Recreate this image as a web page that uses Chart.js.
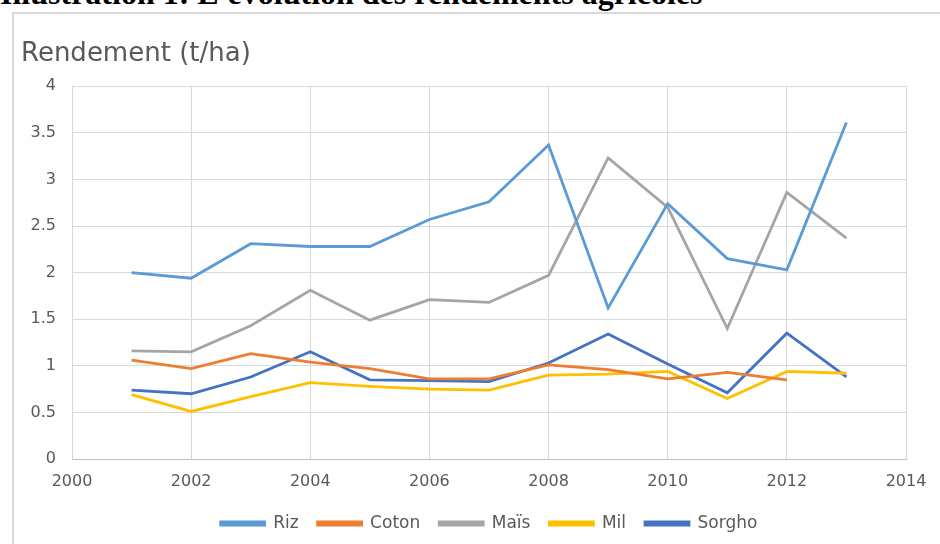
<!DOCTYPE html>
<html>
<head>
<meta charset="utf-8">
<script src="https://cdn.jsdelivr.net/npm/chart.js@4.4.0/dist/chart.umd.min.js"></script>
<style>
  body { margin:0; background:#fff; width:940px; height:544px; overflow:hidden; position:relative; }
  #heading { position:absolute; left:0; top:-23px; line-height:32px; font-family:"Liberation Serif","DejaVu Serif",serif; font-weight:bold; font-size:32px; color:#000; white-space:nowrap; }
  #box { position:absolute; left:12px; top:12px; width:940px; height:540px; border-left:2px solid #d9d9d9; border-top:2px solid #d9d9d9; }
  #wrap { position:absolute; left:14px; top:14px; width:926px; height:528px; }
</style>
</head>
<body>
<div id="heading">Illustration 1: L'évolution des rendements agricoles</div>
<div id="box"></div>
<div id="wrap"><canvas id="chart"></canvas></div>
<script>
// rendements (t/ha)
var years  = [2001, 2002, 2003, 2004, 2005, 2006, 2007, 2008, 2009, 2010, 2011, 2012, 2013];
var riz    = [2.00, 1.94, 2.31, 2.28, 2.28, 2.57, 2.76, 3.37, 1.62, 2.74, 2.15, 2.03, 3.61];
var coton  = [1.06, 0.97, 1.13, 1.04, 0.97, 0.86, 0.86, 1.01, 0.96, 0.86, 0.93, 0.85];
var mais   = [1.16, 1.15, 1.43, 1.81, 1.49, 1.71, 1.68, 1.97, 3.23, 2.70, 1.40, 2.86, 2.37];
var mil    = [0.69, 0.51, 0.67, 0.82, 0.78, 0.75, 0.74, 0.90, 0.91, 0.94, 0.65, 0.94, 0.92];
var sorgho = [0.74, 0.70, 0.88, 1.15, 0.85, 0.84, 0.83, 1.03, 1.34, 1.02, 0.71, 1.35, 0.88];

var seriesNames  = ['Riz', 'Coton', 'Maïs', 'Mil', 'Sorgho'];
var seriesValues = [riz, coton, mais, mil, sorgho];
var seriesColors = ['#5B9BD5', '#ED7D31', '#A5A5A5', '#FFC000', '#4472C4'];

var font = '"DejaVu Sans", "Open Sans", sans-serif';

function toPoints(vals) {
  var pts = [];
  for (var i = 0; i < vals.length; i++) {
    pts.push({ x: years[i], y: vals[i] });
  }
  return pts;
}

var datasets = [];
for (var i = 0; i < seriesNames.length; i++) {
  datasets.push({
    label: seriesNames[i],
    data: toPoints(seriesValues[i]),
    borderColor: seriesColors[i],
    backgroundColor: seriesColors[i],
    borderWidth: 2.8,
    pointRadius: 0,
    tension: 0
  });
}

// the legend sits centred under the plot area, not under the whole canvas
var legendShift = {
  id: 'legendShift',
  afterLayout: function (chart) {
    var lg = chart.legend;
    var d = (chart.chartArea.left + chart.chartArea.right) / 2 - (lg.left + lg.right) / 2;
    lg.left += d;
    lg.right += d;
  }
};

var ctx = document.getElementById('chart');
var chart = new Chart(ctx, {
  type: 'line',
  data: { datasets: datasets },
  plugins: [legendShift],
  options: {
    responsive: true,
    maintainAspectRatio: false,
    animation: false,
    layout: { padding: { left: 7, right: 34, top: 0, bottom: 0 } },
    plugins: {
      tooltip: { enabled: false },
      title: {
        display: true,
        text: 'Rendement (t/ha)',
        align: 'start',
        color: '#595959',
        font: { family: font, size: 26, weight: 'normal' },
        padding: { top: 25, bottom: 16 }
      },
      legend: {
        position: 'bottom',
        labels: {
          color: '#595959',
          font: { family: font, size: 17 },
          boxWidth: 44,
          boxHeight: 3,
          padding: 19
        }
      }
    },
    scales: {
      x: {
        type: 'linear',
        min: 2000,
        max: 2014,
        afterFit: function (scale) { scale.height = 37; },
        ticks: {
          stepSize: 2,
          color: '#595959',
          font: { family: font, size: 16 },
          padding: 13,
          callback: function (v) { return String(v); }
        },
        grid: { color: '#d9d9d9', drawTicks: false },
        border: { color: '#bfbfbf' }
      },
      y: {
        min: 0,
        max: 4,
        afterFit: function (scale) { scale.width = 51; },
        ticks: {
          stepSize: 0.5,
          color: '#595959',
          font: { family: font, size: 16 },
          padding: 16,
          callback: function (v) { return String(v); }
        },
        grid: { color: '#d9d9d9', drawTicks: false },
        border: { display: false }
      }
    }
  }
});
</script>
</body>
</html>
